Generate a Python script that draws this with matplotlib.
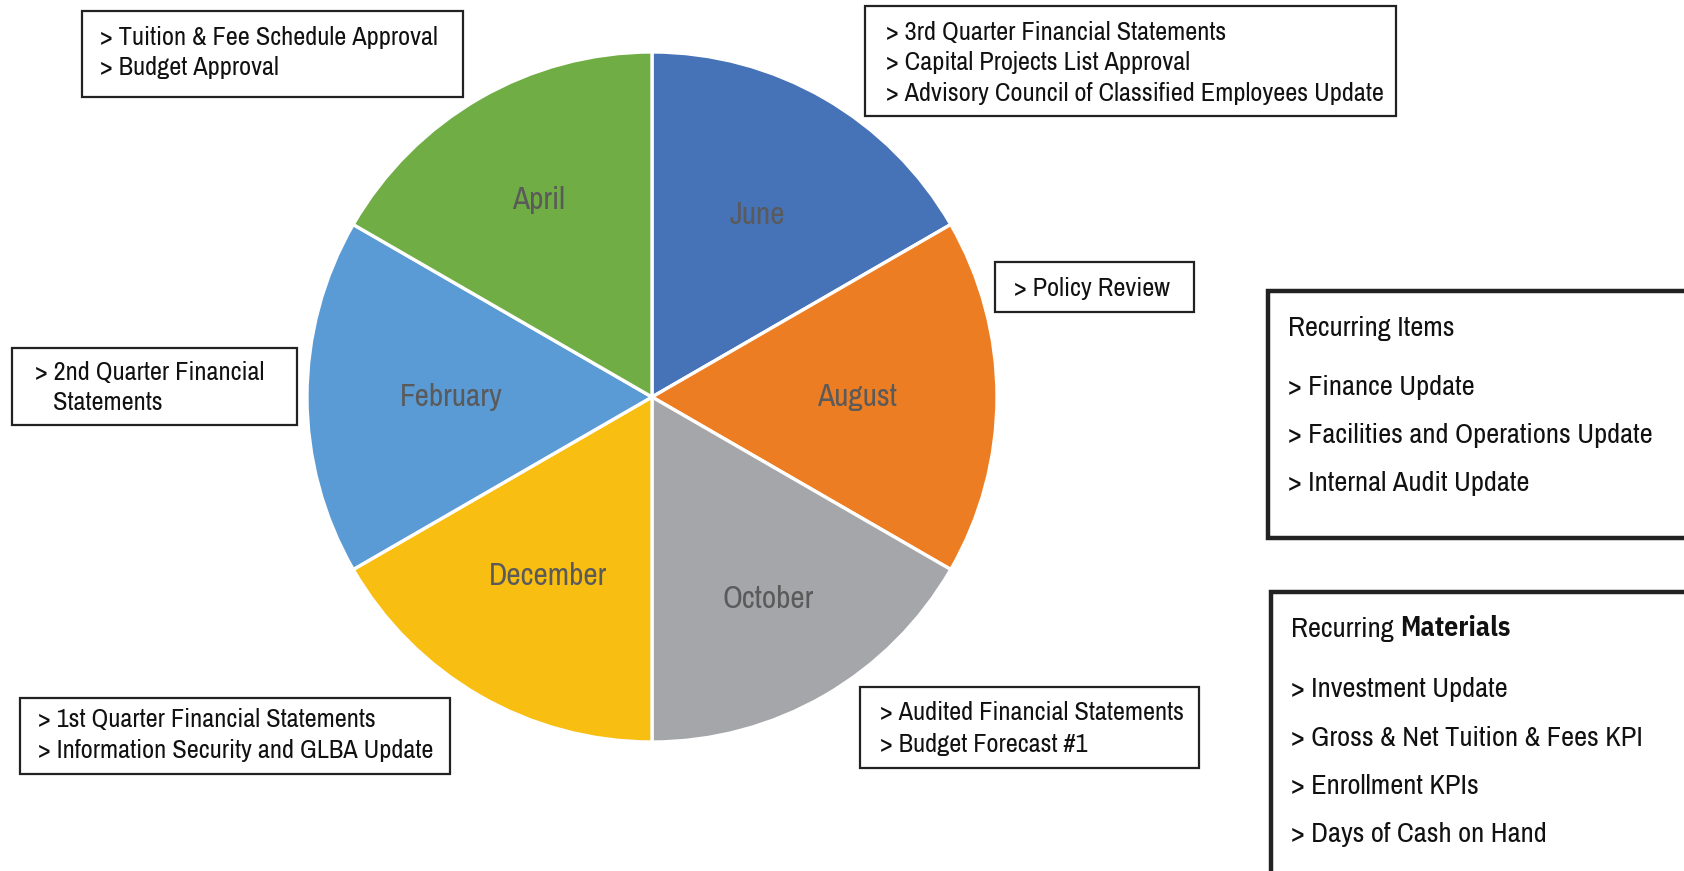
import matplotlib
matplotlib.use("Agg")
import matplotlib.pyplot as plt
import matplotlib.patches as patches

# chart data
months = ["June", "August", "October", "December", "February", "April"]
weights = [1, 1, 1, 1, 1, 1]
slice_colors = ["#4672B8", "#ED7D22", "#A5A6A9", "#F9BE12", "#5B9BD5", "#70AD44"]
label_dist = [0.61, 0.594, 0.676, 0.6, 0.583, 0.66]

april_items = ["> Tuition & Fee Schedule Approval", "> Budget Approval"]
june_items = ["> 3rd Quarter Financial Statements", "> Capital Projects List Approval",
              "> Advisory Council of Classified Employees Update"]
august_items = ["> Policy Review"]
october_items = ["> Audited Financial Statements", "> Budget Forecast #1"]
december_items = ["> 1st Quarter Financial Statements", "> Information Security and GLBA Update"]
february_items = ["> 2nd Quarter Financial", "   Statements"]

recurring_items = ["> Finance Update", "> Facilities and Operations Update", "> Internal Audit Update"]
recurring_materials = ["> Investment Update", "> Gross & Net Tuition & Fees KPI",
                       "> Enrollment KPIs", "> Days of Cash on Hand"]

plt.rcParams["font.family"] = ["Archivo Narrow", "Liberation Sans", "DejaVu Sans"]

W, H = 1684, 871
CX, CY, R = 652, 397, 345
fig = plt.figure(figsize=(W / 100, H / 100), dpi=100)
ax = fig.add_axes([0, 0, 1, 1])

# pie in pixel coords (y axis runs downward, so counterclock here = clockwise on screen)
wedges, texts = ax.pie(weights, colors=slice_colors, labels=months, labeldistance=0.6,
                       center=(CX, CY), radius=R, startangle=-90, counterclock=True,
                       wedgeprops=dict(edgecolor="white", linewidth=2.4),
                       textprops=dict(color="#5a5a5a", fontsize=22.5, ha="center", va="center"))
# nudge labels radially like the original
for txt, d in zip(texts, label_dist):
    x, y = txt.get_position()
    txt.set_position((CX + (x - CX) * d / 0.6, CY + (y - CY) * d / 0.6))

ax.set_xlim(0, W)
ax.set_ylim(H, 0)
ax.set_aspect("equal")
ax.axis("off")


def note_box(x0, y0, x1, y1, lines, tx, ty, step, size=19, lw=1.6):
    ax.add_patch(patches.Rectangle((x0, y0), x1 - x0, y1 - y0, facecolor="white",
                                   edgecolor="#222222", linewidth=lw, clip_on=False))
    for i, s in enumerate(lines):
        ax.text(tx, ty + i * step, s, fontsize=size, ha="left", va="center", color="#111111")


note_box(82, 11, 463, 97, april_items, 100, 37, 30.5)
note_box(865, 6, 1396, 116, june_items, 886, 32, 30.5)
note_box(995, 262, 1194, 312, august_items, 1014, 288, 30)
note_box(860, 687, 1199, 768, october_items, 880, 712, 32)
note_box(20, 698, 450, 774, december_items, 38, 719, 31)
note_box(12, 348, 297, 425, february_items, 35, 372, 30.5)

# recurring boxes (thicker frame, run off the right edge)
note_box(1268, 291, 1700, 538, [], 0, 0, 0, lw=3.2)
ax.text(1288, 328, "Recurring Items", fontsize=20.5, ha="left", va="center", color="#111111")
for i, s in enumerate(recurring_items):
    ax.text(1288, 387 + i * 48, s, fontsize=20.5, ha="left", va="center", color="#111111")

note_box(1271, 592, 1700, 900, [], 0, 0, 0, lw=3.2)
t = ax.text(1291, 630, "Recurring ", fontsize=20.5, ha="left", va="baseline", color="#111111")
t.set_va("center")
# Archivo Narrow has no bold face here, so the bold word uses another narrow family
ax.annotate("Materials", xy=(1, 0), xycoords=t, ha="left", va="bottom",
            fontsize=20, fontweight="bold", color="#111111",
            family=["IBM Plex Sans Condensed", "Asap Condensed", "Liberation Sans"])
for i, s in enumerate(recurring_materials):
    ax.text(1291, 690 + i * 48.3, s, fontsize=20.5, ha="left", va="center", color="#111111")

fig.savefig("out.png", dpi=100, facecolor="white")
